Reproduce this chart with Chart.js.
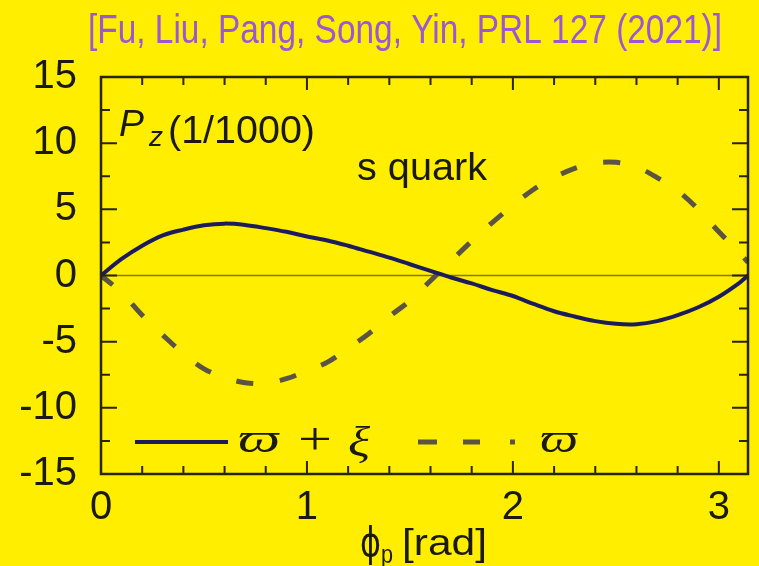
<!DOCTYPE html>
<html>
<head>
<meta charset="utf-8">
<script src="https://cdn.jsdelivr.net/npm/chart.js@4/dist/chart.umd.min.js"></script>
<style>
  html, body { margin: 0; padding: 0; background: #ffee00; }
  canvas { display: block; }
</style>
</head>
<body>
<canvas id="c" width="759" height="566"></canvas>
<script>
// azimuthal angle of the hadron momentum, phi_p [rad]
const phi = [0, 0.1, 0.2, 0.3, 0.4, 0.5, 0.6, 0.7, 0.8, 0.9, 1.0, 1.1, 1.2, 1.3, 1.4, 1.5,
             1.6, 1.7, 1.8, 1.9, 2.0, 2.1, 2.2, 2.3, 2.4, 2.5, 2.6, 2.7, 2.8, 2.9, 3.0, 3.1, 3.1416];
// s-quark longitudinal polarization P_z (units of 1/1000)
const pzVorticityShear = [0, 1.25, 2.25, 3.03, 3.47, 3.8, 3.92, 3.82, 3.58, 3.3, 2.95, 2.65, 2.25,
                          1.8, 1.35, 0.85, 0.35, -0.15, -0.6, -1.1, -1.55, -2.15, -2.7, -3.1, -3.45,
                          -3.65, -3.68, -3.45, -3.0, -2.4, -1.6, -0.55, 0];
const pzVorticity = [0, -1.3, -3.0, -4.5, -5.9, -7.05, -7.7, -8.1, -8.15, -7.8, -7.2, -6.55, -5.5,
                     -4.4, -3.1, -1.9, -0.4, 1.1, 2.6, 4.0, 5.3, 6.5, 7.4, 8.1, 8.5, 8.55, 8.2, 7.4,
                     6.4, 5.0, 3.3, 1.7, 1.0];
const xTickValues = [0, 1, 2, 3];
const yTickValues = [-15, -10, -5, 0, 5, 10, 15];

const BG = '#ffee00';
const INK = '#1b1a12';
const FRAME = '#2a2406';

const toPoints = ys => phi.map((x, i) => ({ x: x, y: ys[i] }));

// draws text stretched horizontally so that it spans the requested width
function fitText(ctx, text, x, y, font, width, color) {
  ctx.save();
  ctx.font = font;
  ctx.fillStyle = color;
  ctx.textBaseline = 'alphabetic';
  ctx.textAlign = 'left';
  const w = ctx.measureText(text).width;
  const s = width ? width / w : 1;
  ctx.translate(x, y);
  ctx.scale(s, 1);
  ctx.fillText(text, 0, 0);
  ctx.restore();
}

const decorations = {
  id: 'decorations',
  beforeDraw(chart) {
    const ctx = chart.ctx;
    ctx.save();
    ctx.fillStyle = BG;
    ctx.fillRect(0, 0, chart.width, chart.height);
    ctx.restore();
  },
  beforeDatasetsDraw(chart) {
    const { ctx, chartArea: a, scales: { y } } = chart;
    const y0 = y.getPixelForValue(0);
    ctx.save();
    ctx.strokeStyle = '#8c7414';
    ctx.lineWidth = 1.5;
    ctx.beginPath();
    ctx.moveTo(a.left, y0);
    ctx.lineTo(a.right, y0);
    ctx.stroke();
    ctx.restore();
  },
  afterDatasetsDraw(chart) {
    const { ctx, chartArea: a, scales: { x, y } } = chart;
    ctx.save();
    ctx.strokeStyle = FRAME;
    ctx.lineWidth = 2;
    // inward ticks on all four sides
    ctx.beginPath();
    for (let v = 0; v <= 3.0001; v += 0.2) {
      const px = x.getPixelForValue(v);
      const major = Math.abs(v - Math.round(v)) < 1e-6;
      const len = major ? 13 : 8;
      ctx.moveTo(px, a.bottom); ctx.lineTo(px, a.bottom - len);
      ctx.moveTo(px, a.top); ctx.lineTo(px, a.top + len);
    }
    for (let v = -15; v <= 15; v += 2.5) {
      const py = y.getPixelForValue(v);
      const major = v % 5 === 0;
      const len = major ? 16 : 9;
      ctx.moveTo(a.left, py); ctx.lineTo(a.left + len, py);
      ctx.moveTo(a.right, py); ctx.lineTo(a.right - len, py);
    }
    ctx.stroke();
    ctx.lineWidth = 2.5;
    ctx.strokeRect(a.left, a.top, a.right - a.left, a.bottom - a.top);
    ctx.restore();
  },
  afterDraw(chart) {
    const ctx = chart.ctx;
    // reference line above the frame
    fitText(ctx, '[Fu, Liu, Pang, Song, Yin, PRL 127 (2021)]', 88, 43,
            '40px "Liberation Sans", Arial, sans-serif', 634, '#9a58d4');
    // quantity label
    fitText(ctx, 'P', 119, 136, 'italic 37px "Liberation Sans", Arial, sans-serif', 25, INK);
    fitText(ctx, 'z', 149, 146, 'italic 27px "Liberation Sans", Arial, sans-serif', 14, INK);
    fitText(ctx, '(1/1000)', 168, 143, '38px "Liberation Sans", Arial, sans-serif', 147, INK);
    fitText(ctx, 's quark', 357, 180, '38px "Liberation Sans", Arial, sans-serif', 130, INK);
    // legend
    ctx.save();
    ctx.strokeStyle = '#1c1c5c';
    ctx.lineWidth = 4;
    ctx.beginPath(); ctx.moveTo(135, 442); ctx.lineTo(228, 442); ctx.stroke();
    ctx.strokeStyle = '#5b5442';
    ctx.lineWidth = 5;
    ctx.beginPath();
    ctx.moveTo(418, 442); ctx.lineTo(437, 442);
    ctx.moveTo(463, 442); ctx.lineTo(480, 442);
    ctx.moveTo(510, 442); ctx.lineTo(515, 442);
    ctx.stroke();
    ctx.restore();
    const serifI = 'italic 42px "Liberation Serif", "DejaVu Serif", serif';
    fitText(ctx, '\u03d6', 238, 452, serifI, 42, INK);
    fitText(ctx, '+', 298, 454, '46px "Liberation Serif", "DejaVu Serif", serif', 34, INK);
    fitText(ctx, '\u03be', 348, 456, serifI, 22, INK);
    fitText(ctx, '\u03d6', 540, 452, serifI, 38, INK);
    // x axis title
    fitText(ctx, '\u03d5', 360, 556, '40px "DejaVu Sans", sans-serif', 21, INK);
    fitText(ctx, 'p', 381, 563, '26px "Liberation Sans", Arial, sans-serif', 12, INK);
    fitText(ctx, '[rad]', 402, 555, '37px "Liberation Sans", Arial, sans-serif', 85, INK);
  }
};

new Chart(document.getElementById('c'), {
  type: 'line',
  data: {
    datasets: [
      {
        label: 'vorticity + shear',
        data: toPoints(pzVorticityShear),
        borderColor: '#1c1c5c',
        borderWidth: 4,
        pointRadius: 0,
        tension: 0.35,
        fill: false
      },
      {
        label: 'vorticity',
        data: toPoints(pzVorticity),
        borderColor: '#5b5442',
        borderWidth: 5,
        borderDash: [17, 27],
        borderDashOffset: 2,
        pointRadius: 0,
        tension: 0.35,
        fill: false
      }
    ]
  },
  options: {
    responsive: false,
    animation: false,
    layout: { padding: { top: 77, right: 11, left: 0, bottom: 0 } },
    plugins: { legend: { display: false }, tooltip: { enabled: false }, title: { display: false } },
    scales: {
      x: {
        type: 'linear',
        min: 0,
        max: 3.1416,
        afterFit: s => { s.height = 92; },
        afterBuildTicks: s => { s.ticks = xTickValues.map(v => ({ value: v })); },
        grid: { display: false },
        border: { display: false },
        ticks: {
          color: INK,
          padding: 6,
          maxRotation: 0,
          font: { family: '"Liberation Sans", Arial, sans-serif', size: 40, lineHeight: 1 }
        }
      },
      y: {
        type: 'linear',
        min: -15,
        max: 15,
        afterFit: s => { s.width = 101; },
        afterBuildTicks: s => { s.ticks = yTickValues.map(v => ({ value: v })); },
        grid: { display: false },
        border: { display: false },
        ticks: {
          color: INK,
          padding: 16,
          font: { family: '"Liberation Sans", Arial, sans-serif', size: 40, lineHeight: 1 }
        }
      }
    }
  },
  plugins: [decorations]
});
</script>
</body>
</html>
